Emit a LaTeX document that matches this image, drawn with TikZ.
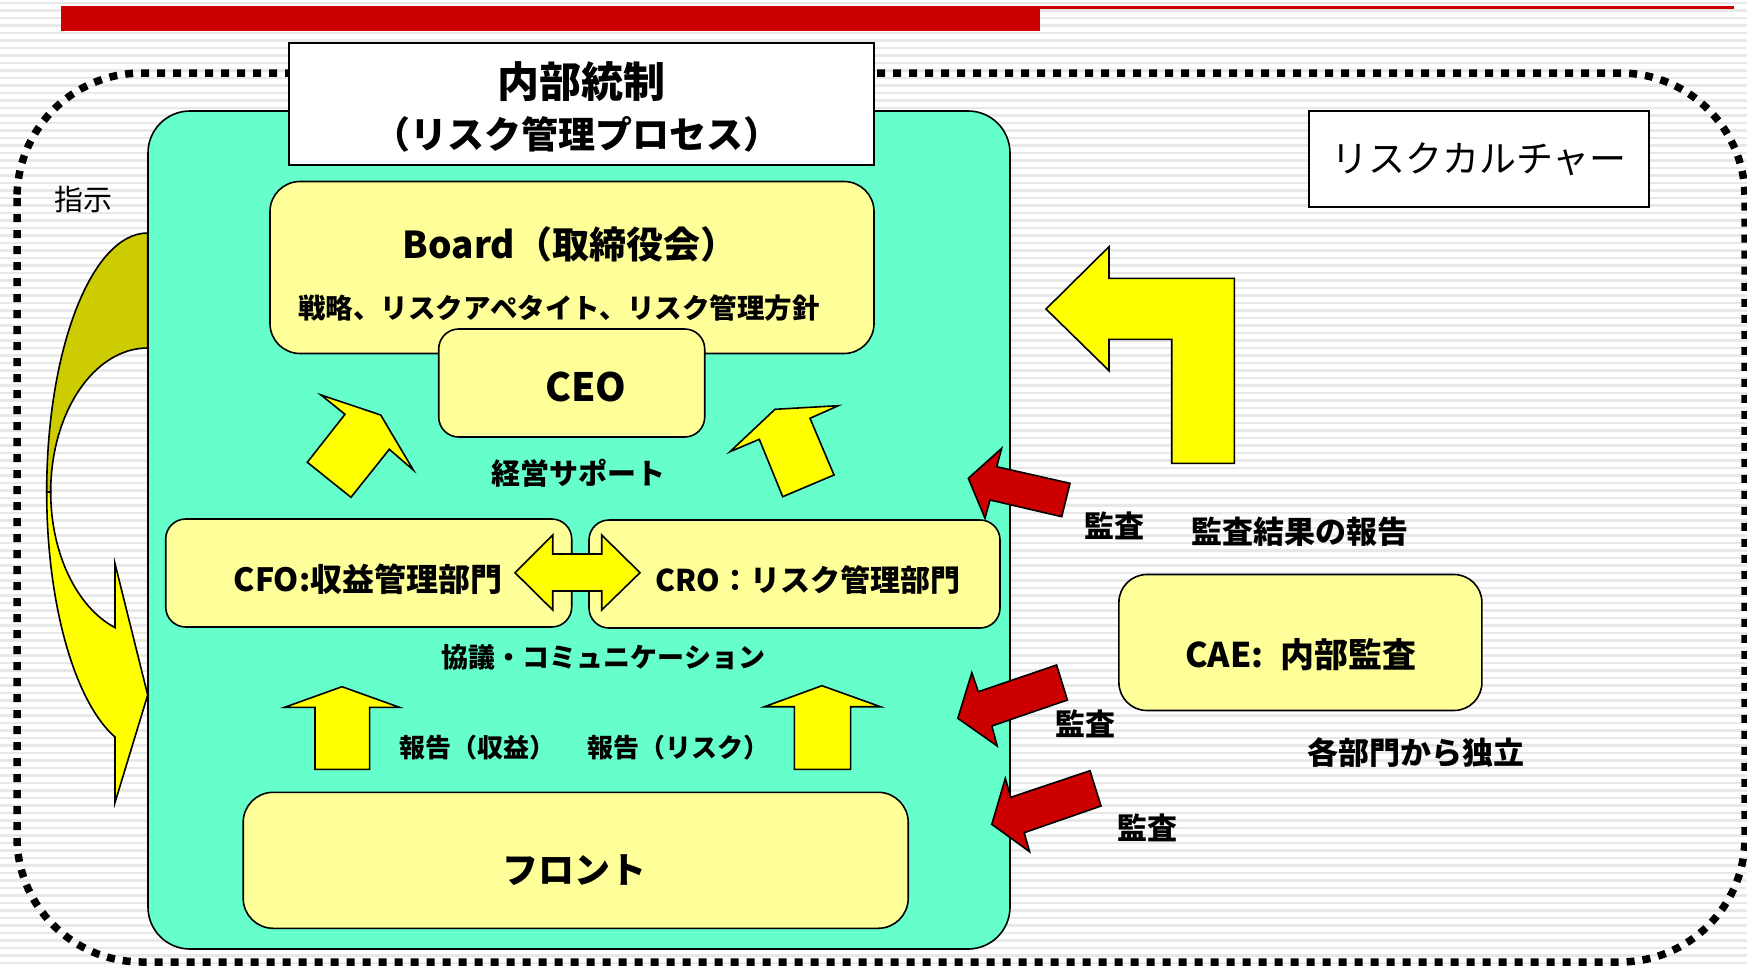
\documentclass[tikz,border=0pt]{standalone}
\usepackage{fontspec}
\setmainfont{Noto Sans CJK JP}
\usepackage{tikz}

\definecolor{ctrlgreen}{HTML}{66FFCC}
\definecolor{paleyellow}{HTML}{FFFF99}
\definecolor{arrowyellow}{HTML}{FFFF00}
\definecolor{backolive}{HTML}{CCCC00}
\definecolor{auditred}{HTML}{CC0000}

\newcommand\fsz[1]{\fontsize{#1}{#1}\selectfont}

\tikzset{
  stripe/.style={draw=black!9, line width=2.5pt},
  ybox/.style={draw, line width=1.6pt, fill=paleyellow, inner sep=0pt, font=\bfseries},
  wbox/.style={draw, line width=1.6pt, fill=white, inner sep=0pt},
  lbl/.style={inner sep=0pt, font=\bfseries},
  yarrow/.style={draw, line width=1.6pt, fill=arrowyellow},
  rarrow/.style={draw, line width=1.6pt, fill=auditred},
}

\begin{document}
\begin{tikzpicture}[x=1pt, y=-1pt]
  \useasboundingbox (0,0) rectangle (1747,966);
  \fill[white] (0,0) rectangle (1747,966);
  \foreach \y in {3,10.5,...,966}
    \draw[stripe] (0,\y) -- (1747,\y);

  \fill[auditred] (61,6) rectangle (1040,31);
  \fill[auditred] (1040,6) rectangle (1734,9);

  \draw[line width=7.5pt, dash pattern=on 8pt off 8pt, rounded corners=125pt]
    (17,73) rectangle (1745,962);

  \node[draw, line width=1.6pt, fill=ctrlgreen, rounded corners=42pt,
        minimum width=862pt, minimum height=838pt] (ctrl) at (579,530) {};

  \node[wbox, minimum width=585pt, minimum height=122pt] (title) at (581.5,104) {};
  \node[lbl, font=\bfseries\fsz{42}] (titlea) at (581,82) {内部統制};
  \node[lbl, font=\bfseries\fsz{37}] (titleb) at (577,134.5) {（リスク管理プロセス）};

  \node[wbox, minimum width=340pt, minimum height=96pt,
        font=\fsz{37}] (culture) at (1479,159) {リスクカルチャー};

  \node[ybox, rounded corners=30pt, minimum width=604pt, minimum height=172pt]
    (board) at (572,267.5) {};
  \node[lbl, font=\bfseries\fsz{37}] (boardname) at (570,244) {Board（取締役会）};
  \node[lbl, font=\bfseries\fsz{27.5}] (policy) at (559,308)
    {戦略、リスクアペタイト、リスク管理方針};

  \node[ybox, rounded corners=20pt, minimum width=266pt, minimum height=108pt]
    (ceo) at (571.7,383) {};
  \node[lbl, font=\bfseries\fsz{39}] (ceoname) at (585.8,387) {CEO};

  \node[lbl, font=\bfseries\fsz{29}] (support) at (578,473) {経営サポート};

  \draw[yarrow] (321,395) -- (380.7,415) -- (413.3,470) -- (389.3,449.3)
    -- (351,497.3) -- (307.3,462.3) -- (345,414.3) -- cycle;
  \draw[yarrow] (730,451.7) -- (759.3,439.3) -- (782.7,496.7) -- (834,475)
    -- (810,418.3) -- (838.3,405.7) -- (775,409.3) -- cycle;

  \node[ybox, rounded corners=20pt, minimum width=406pt, minimum height=108pt]
    (cfo) at (368.7,573) {};
  \node[lbl, font=\bfseries\fsz{32}] (cfoname) at (368,579) {CFO:収益管理部門};
  \node[ybox, rounded corners=20pt, minimum width=411pt, minimum height=108pt]
    (cro) at (794.5,574) {};
  \node[lbl, font=\bfseries\fsz{30}] (croname) at (808,580) {CRO：リスク管理部門};

  \draw[yarrow] (515,572.7) -- (552.7,535) -- (552.7,554) -- (601.7,554)
    -- (601.7,535) -- (640,572.7) -- (601.7,610) -- (601.7,591)
    -- (552.7,591) -- (552.7,610) -- cycle;

  \node[lbl, font=\bfseries\fsz{27}] (consult) at (603.6,657.5)
    {協議・コミュニケーション};

  \draw[yarrow] (342,686.7) -- (399.4,707.3) -- (369.6,707.3) -- (369.6,769.3)
    -- (315,769.3) -- (315,707.3) -- (284.6,707.3) -- cycle;
  \draw[yarrow] (821.9,685.7) -- (880.4,706.7) -- (850.6,706.7) -- (850.6,769.3)
    -- (794.4,769.3) -- (794.4,706.7) -- (764.5,706.7) -- cycle;

  \node[lbl, font=\bfseries\fsz{26}] (repfin) at (477,748) {報告（収益）};
  \node[lbl, font=\bfseries\fsz{26}] (reprisk) at (678,748) {報告（リスク）};

  \node[ybox, rounded corners=30pt, minimum width=665pt, minimum height=136pt]
    (front) at (575.7,860.3) {};
  \node[lbl, font=\bfseries\fsz{36}] (frontname) at (574.5,870) {フロント};

  \draw[line width=1.6pt, fill=backolive] (147.7,233)
    arc[start angle=270, end angle=180, x radius=101, y radius=259]
    -- (50.7,492)
    arc[start angle=180, end angle=270, x radius=97, y radius=144] -- cycle;
  \draw[yarrow] (46.7,492)
    arc[start angle=180, end angle=108.9, x radius=101, y radius=259]
    -- (115,802.6) -- (147.7,695) -- (115,563.6) -- (115,627.6)
    arc[start angle=109.7, end angle=180, x radius=97, y radius=144] -- cycle;
  \node[inner sep=0pt, font=\fsz{29}] (order) at (83,199) {指示};

  \draw[yarrow] (1046,309) -- (1109,246.7) -- (1109,278.3) -- (1234.3,278.3)
    -- (1234.3,463.3) -- (1171.7,463.3) -- (1171.7,339.3) -- (1109,339.3)
    -- (1109,370.7) -- cycle;

  \draw[rarrow] (968.3,478.3) -- (1001.7,448.3) -- (996.7,466.7) -- (1070,483.3)
    -- (1061.7,516.7) -- (990,500) -- (985,518.3) -- cycle;
  \draw[rarrow] (957.8,718.3) -- (971.8,672.7) -- (978.3,691.7) -- (1056.6,665)
    -- (1067.4,700) -- (991.8,726) -- (997.2,746) -- cycle;
  \draw[rarrow] (991.8,824.3) -- (1005.3,778.3) -- (1010.7,797.3) -- (1090,770.7)
    -- (1101,806) -- (1024.2,832.7) -- (1029.6,851.7) -- cycle;

  \node[lbl, font=\bfseries\fsz{30}] (audita) at (1114,526) {監査};
  \node[lbl, font=\bfseries\fsz{31}] (auditrep) at (1299.5,532) {監査結果の報告};
  \node[lbl, font=\bfseries\fsz{30}] (auditb) at (1085.5,723.5) {監査};
  \node[lbl, font=\bfseries\fsz{30}] (auditc) at (1147,828) {監査};

  \node[ybox, rounded corners=28pt, minimum width=363pt, minimum height=136pt]
    (cae) at (1300.4,642.5) {};
  \node[lbl, font=\bfseries\fsz{34}] (caename) at (1301,655) {CAE:\enspace 内部監査};
  \node[lbl, font=\bfseries\fsz{31}] (indep) at (1415.7,753) {各部門から独立};
\end{tikzpicture}
\end{document}
